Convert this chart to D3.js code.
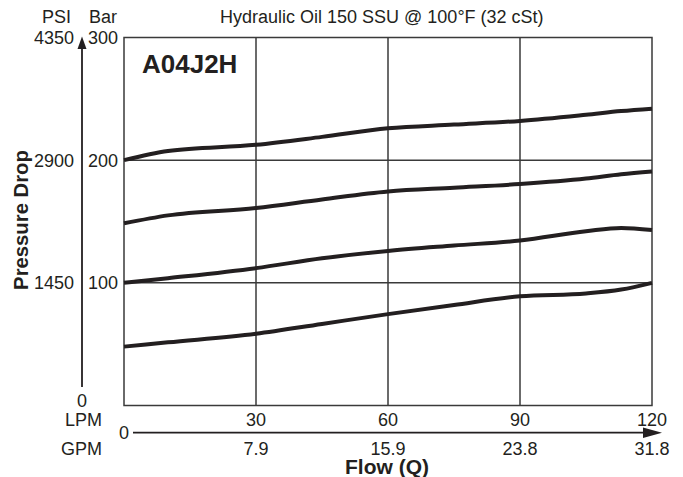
<!DOCTYPE html>
<html><head><meta charset="utf-8">
<script src="https://cdn.jsdelivr.net/npm/d3@7"></script>
<style>html,body{margin:0;padding:0;background:#fff;}svg{display:block;font-family:"Liberation Sans",Arial,sans-serif;}</style>
</head><body><svg id="c" width="683" height="477"></svg>
<script>
const flowLPM = [0, 10, 30, 45, 60, 75, 90, 105, 113, 120];
const curve1 = [200, 207.5, 212.5, 219, 226, 229, 232, 237, 240, 242];
const curve2 = [148.5, 155, 161, 168, 174.5, 177.5, 180.5, 185, 188.5, 190.8];
const curve3 = [100, 103.8, 112, 120, 126, 130.4, 134.5, 142, 144.8, 143];
const curve4 = [48, 51.5, 58.5, 66.5, 74.5, 82, 89, 91.3, 94.5, 100];
const series = [curve1, curve2, curve3, curve4];

const lpmTicks = [30, 60, 90, 120];
const gpmLabels = ["7.9", "15.9", "23.8", "31.8"];
const barTicks = [100, 200, 300];
const psiLabels = ["1450", "2900", "4350"];
const gridBar = [100, 200];
const gridLPM = [30, 60, 90];

const svg = d3.select("#c");
const x = d3.scaleLinear().domain([0, 120]).range([124, 652]);
const y = d3.scaleLinear().domain([0, 300]).range([405.5, 37.5]);
const ink = "#231f20";

// grid
svg.selectAll("line.gh").data(gridBar).join("line")
  .attr("x1", x(0)).attr("x2", x(120)).attr("y1", d => y(d)).attr("y2", d => y(d))
  .attr("stroke", "#3a3a3a").attr("stroke-width", 1.5);
svg.selectAll("line.gv").data(gridLPM).join("line")
  .attr("y1", y(0)).attr("y2", y(300)).attr("x1", d => x(d)).attr("x2", d => x(d))
  .attr("stroke", "#3a3a3a").attr("stroke-width", 1.5);
svg.append("rect").attr("x", x(0)).attr("y", y(300)).attr("width", x(120) - x(0)).attr("height", y(0) - y(300))
  .attr("fill", "none").attr("stroke", "#3a3a3a").attr("stroke-width", 1.5);

// curves
const line = d3.line().x((d, i) => x(flowLPM[i])).y(d => y(d)).curve(d3.curveMonotoneX);
svg.selectAll("path.s").data(series).join("path")
  .attr("d", d => line(d)).attr("fill", "none").attr("stroke", ink).attr("stroke-width", 4);

// left arrow axis
svg.append("line").attr("x1", 82).attr("x2", 82).attr("y1", 387).attr("y2", 46).attr("stroke", ink).attr("stroke-width", 1.8);
svg.append("path").attr("d", "M82,36.5 L86.5,49 L77.5,49 Z").attr("fill", ink);
// bottom arrow axis
svg.append("line").attr("x1", 133).attr("x2", 648).attr("y1", 432.7).attr("y2", 432.7).attr("stroke", ink).attr("stroke-width", 1.8);
svg.append("path").attr("d", "M662,432.7 L643,427.5 L643,437.9 Z").attr("fill", ink);

const fs = 18;
function txt(t, xx, yy, anchor, size, weight) {
  return svg.append("text").attr("x", xx).attr("y", yy).attr("text-anchor", anchor || "start")
    .attr("font-size", size || fs).attr("font-weight", weight || "normal").attr("fill", ink).text(t);
}
txt("PSI", 71, 23, "end");
txt("Bar", 117, 23, "end");
txt("Hydraulic Oil 150 SSU @ 100°F (32 cSt)", 220, 23, "start");
txt("A04J2H", 142, 73, "start", 26, "bold");

svg.selectAll("text.bar").data(barTicks).join("text")
  .attr("x", 118).attr("y", d => y(d) + 6.4).attr("text-anchor", "end").attr("font-size", fs).attr("fill", ink).text(d => d);
svg.selectAll("text.psi").data(psiLabels).join("text")
  .attr("x", 74).attr("y", (d, i) => y(barTicks[i]) + 6.4).attr("text-anchor", "end").attr("font-size", fs).attr("fill", ink).text(d => d);
txt("0", 82, 406.5, "middle");

txt("LPM", 102, 425.5, "end");
txt("GPM", 102, 455, "end");
txt("0", 124, 439, "middle");
svg.selectAll("text.lpm").data(lpmTicks).join("text")
  .attr("x", d => x(d)).attr("y", 425.5).attr("text-anchor", "middle").attr("font-size", fs).attr("fill", ink).text(d => d);
svg.selectAll("text.gpm").data(gpmLabels).join("text")
  .attr("x", (d, i) => x(lpmTicks[i])).attr("y", 455).attr("text-anchor", "middle").attr("font-size", fs).attr("fill", ink).text(d => d);

txt("Flow (Q)", 387, 474, "middle", 21, "bold");
svg.append("text").attr("transform", "translate(28,220) rotate(-90)").attr("text-anchor", "middle")
  .attr("font-size", 20.3).attr("font-weight", "bold").attr("fill", ink).text("Pressure Drop");
</script></body></html>
